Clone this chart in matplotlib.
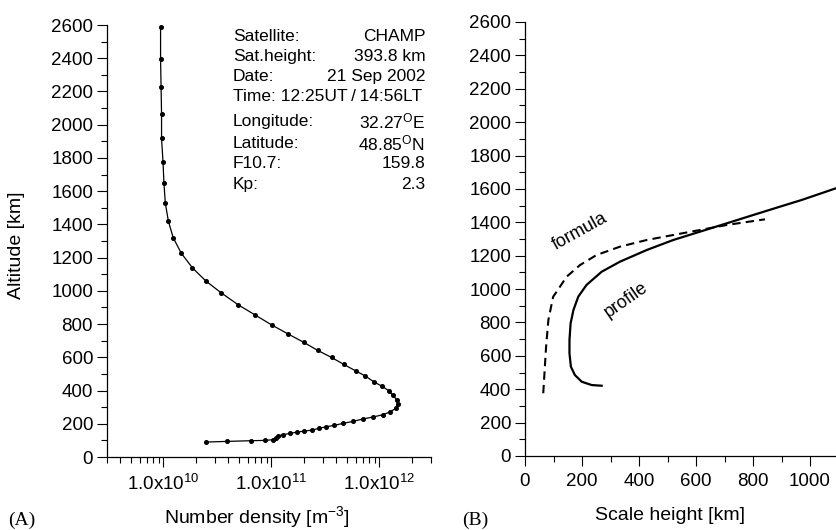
import numpy as np
import matplotlib
matplotlib.use('Agg')
import matplotlib.pyplot as plt
from matplotlib.ticker import FixedLocator, MultipleLocator, LogLocator, FuncFormatter, NullFormatter

plt.rcParams['font.family'] = ['Liberation Sans', 'DejaVu Sans']
plt.rcParams['mathtext.fontset'] = 'custom'
plt.rcParams['mathtext.rm'] = 'Liberation Sans'
plt.rcParams['mathtext.it'] = 'Liberation Sans'
plt.rcParams['mathtext.bf'] = 'Liberation Sans'

# (A) electron density profile
alt_a = [2587, 2396, 2226, 2064, 1917, 1777, 1649, 1528, 1420, 1320, 1227, 1139,
         1059, 987, 916, 856, 794, 740, 690, 641, 599, 557, 519, 487, 453, 425,
         399, 371, 345, 319, 292, 271, 254, 241, 229, 214, 202, 190, 182, 172,
         162, 156, 150, 142, 134, 128, 114, 104, 100, 98, 94, 90]
dens_a = [9.4e9, 9.4e9, 9.5e9, 9.6e9, 9.6e9, 9.9e9, 1.01e10, 1.04e10, 1.11e10,
          1.23e10, 1.46e10, 1.85e10, 2.47e10, 3.44e10, 4.92e10, 7.0e10, 1.01e11,
          1.43e11, 1.99e11, 2.69e11, 3.60e11, 4.68e11, 6.0e11, 7.41e11, 8.85e11,
          1.06e12, 1.22e12, 1.34e12, 1.44e12, 1.48e12, 1.41e12, 1.25e12, 1.07e12,
          8.75e11, 7.06e11, 5.66e11, 4.57e11, 3.78e11, 3.21e11, 2.74e11, 2.38e11,
          2.02e11, 1.73e11, 1.48e11, 1.28e11, 1.15e11, 1.09e11, 1.04e11, 8.67e10,
          6.49e10, 3.89e10, 2.47e10]

info_keys = ['Satellite:', 'Sat.height:', 'Date:', 'Time:', 'Longitude:', 'Latitude:', 'F10.7:', 'Kp:']
info_vals = ['CHAMP', '393.8 km', '21 Sep 2002', '12:25UT\u2009/\u200914:56LT',
             r'32.27$^{\mathrm{O}}$E', r'48.85$^{\mathrm{O}}$N', '159.8', '2.3']
info_rows = [0.973, 0.927, 0.881, 0.834, 0.777, 0.726, 0.680, 0.630]

# (B) scale height
h_formula = [64, 74, 82, 94, 99, 111, 123, 146, 193, 251, 333, 427, 520, 614, 708, 842]
alt_formula = [376, 655, 815, 915, 955, 984, 1015, 1074, 1144, 1204, 1254, 1294, 1324,
               1354, 1384, 1418]
h_profile = [269, 234, 199, 175, 161, 156, 156, 160, 170, 187, 216, 269, 333, 427,
             520, 614, 708, 801, 895, 971, 1091, 1150]
alt_profile = [421, 425, 445, 485, 535, 615, 695, 795, 875, 955, 1025, 1104, 1164,
               1234, 1294, 1344, 1394, 1444, 1494, 1534, 1604, 1639]

fig = plt.figure(figsize=(8.36, 5.30), dpi=100)
axA = fig.add_axes([107/836, 73/530, 324/836, 432/530])
axB = fig.add_axes([525/836, 74/530, 311/836, 434/530])

for ax in (axA, axB):
    for s in ('top', 'right'):
        ax.spines[s].set_visible(False)
    for s in ('left', 'bottom'):
        ax.spines[s].set_linewidth(0.9)
    ax.tick_params(which='major', direction='out', length=7, width=0.8, labelsize=13.5, pad=3)
    ax.tick_params(which='minor', direction='out', length=4, width=0.8)
    ax.set_ylim(0, 2600)
    ax.yaxis.set_major_locator(MultipleLocator(200))
    ax.yaxis.set_minor_locator(MultipleLocator(100))

axA.plot(dens_a, alt_a, color='black', lw=0.9, marker='o', ms=2.6, clip_on=False)
axA.set_xscale('log')
axA.set_xlim(3e9, 3e12)
axA.xaxis.set_major_locator(FixedLocator([1e10, 1e11, 1e12]))
axA.xaxis.set_minor_locator(LogLocator(base=10, subs=np.arange(2, 10), numticks=20))
axA.xaxis.set_minor_formatter(NullFormatter())
axA.xaxis.set_major_formatter(FuncFormatter(
    lambda v, p: r'1.0x10$^{%d}$' % round(np.log10(v))))
axA.tick_params(axis='x', which='major', pad=5)
axA.set_xlabel(r'Number density [m$^{-3}$]', fontsize=14)
axA.xaxis.set_label_coords(0.463, -0.108)
axA.set_ylabel('Altitude [km]', fontsize=14)
axA.yaxis.set_label_coords(-0.253, 0.49)

for k, v, y in zip(info_keys, info_vals, info_rows):
    if k == 'Time:':
        axA.text(0.388, y, k + ' ' + v, transform=axA.transAxes, fontsize=12.5,
                 va='center', ha='left')
        continue
    axA.text(0.388, y, k, transform=axA.transAxes, fontsize=12.5, va='center', ha='left')
    axA.text(0.982, y, v, transform=axA.transAxes, fontsize=12.5, va='center', ha='right')

axB.plot(h_formula, alt_formula, color='black', lw=1.5, ls=(0, (4, 2.5)))
axB.plot(h_profile, alt_profile, color='black', lw=1.6)
axB.set_xlim(0, 1091)
axB.xaxis.set_major_locator(MultipleLocator(200))
axB.xaxis.set_minor_locator(MultipleLocator(100))
axB.tick_params(axis='x', which='major', pad=5)
axB.set_xlabel('Scale height [km]', fontsize=14)
axB.xaxis.set_label_coords(0.466, -0.1175)
axB.text(193, 1342, 'formula', fontsize=13, rotation=29, ha='center', va='center')
axB.text(354, 935, 'profile', fontsize=13, rotation=35, ha='center', va='center')

fig.text(8/836, 1 - 520/530, '(A)', fontsize=14, family='Liberation Serif', va='center')
fig.text(462/836, 1 - 520/530, '(B)', fontsize=14, family='Liberation Serif', va='center')

fig.savefig('out.png', dpi=100)
